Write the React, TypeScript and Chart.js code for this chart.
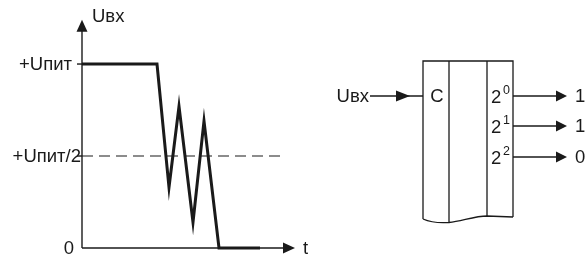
import React, { useEffect, useRef } from "react";
import { Chart, registerables } from "chart.js";

Chart.register(...registerables);

// Input signal (time in arbitrary units, voltage as fraction of Uпит)
const timeValues = [0, 3.75, 4.35, 4.85, 5.55, 6.1, 6.85, 8.9];
const voltageValues = [1, 1, 0.33, 0.77, 0.14, 0.69, 0, 0];
const thresholdLevel = 0.5;
const thresholdEnd = 10.15;
const timeAxisEnd = 10.65;
const voltageAxisEnd = 1.24;

const yTickValues = [0, 0.5, 1];
const yTickLabels = ["0", "+Uпит/2", "+Uпит"];
const axisTitleY = "Uвх";
const axisTitleX = "t";

// Counter diagram
const inputLabel = "Uвх";
const clockLabel = "C";
const bitPowers = ["0", "1", "2"];
const outputValues = ["1", "1", "0"];

const FONT = '"Liberation Sans", Arial, sans-serif';
const INK = "#1a1a1a";
const FS = 18.5;

function arrowHead(ctx: CanvasRenderingContext2D, tipX: number, tipY: number, dir: "up" | "right", len: number, half: number) {
  ctx.beginPath();
  if (dir === "up") {
    ctx.moveTo(tipX, tipY);
    ctx.lineTo(tipX - half, tipY + len);
    ctx.lineTo(tipX + half, tipY + len);
  } else {
    ctx.moveTo(tipX, tipY);
    ctx.lineTo(tipX - len, tipY - half);
    ctx.lineTo(tipX - len, tipY + half);
  }
  ctx.closePath();
  ctx.fill();
}

const diagramPlugin = {
  id: "diagram",
  afterDatasetsDraw(chart: any) {
    const ctx: CanvasRenderingContext2D = chart.ctx;
    const xs = chart.scales.x;
    const ys = chart.scales.y;
    const px = (v: number) => xs.getPixelForValue(v);
    const py = (v: number) => ys.getPixelForValue(v);
    ctx.save();
    ctx.strokeStyle = INK;
    ctx.fillStyle = INK;
    ctx.lineWidth = 1.4;

    const x0 = px(0);
    const y0 = py(0);
    // y axis
    const yTip = py(voltageAxisEnd);
    ctx.beginPath();
    ctx.moveTo(x0, y0);
    ctx.lineTo(x0, yTip + 8);
    ctx.stroke();
    arrowHead(ctx, x0, yTip, "up", 12, 5.5);
    // x axis
    const xTip = px(timeAxisEnd);
    ctx.beginPath();
    ctx.moveTo(x0, y0);
    ctx.lineTo(xTip - 8, y0);
    ctx.stroke();
    arrowHead(ctx, xTip, y0, "right", 12, 5.5);

    // ticks & labels
    ctx.font = `${FS}px ${FONT}`;
    ctx.textBaseline = "middle";
    ctx.textAlign = "right";
    yTickValues.forEach((v, i) => {
      const y = py(v);
      if (v !== 0) {
        ctx.beginPath();
        ctx.moveTo(x0 - 5, y);
        ctx.lineTo(x0, y);
        ctx.stroke();
      }
      const off = v === 0 ? 8 : v === 0.5 ? 1 : 10;
      ctx.fillText(yTickLabels[i], x0 - off, y + 1);
    });
    ctx.textAlign = "left";
    ctx.fillText(axisTitleY, x0 + 10, yTip - 3);
    ctx.fillText(axisTitleX, xTip + 8, y0 + 1);

    // counter box
    const L = 423, R = 513, T = 61;
    const m1 = 449, m2 = 487;
    ctx.lineWidth = 1.3;
    ctx.beginPath();
    ctx.moveTo(L, 219);
    ctx.lineTo(L, T);
    ctx.lineTo(R, T);
    ctx.lineTo(R, 217);
    ctx.moveTo(m1, T);
    ctx.lineTo(m1, 222.5);
    ctx.moveTo(m2, T);
    ctx.lineTo(m2, 216);
    ctx.stroke();
    ctx.beginPath();
    ctx.moveTo(L, 219);
    ctx.bezierCurveTo(432, 223, 442, 223, m1, 222.5);
    ctx.bezierCurveTo(462, 221, 475, 216, m2, 216);
    ctx.lineTo(R, 217);
    ctx.stroke();

    // input
    const rowY = [96, 126, 157];
    ctx.font = `${FS}px ${FONT}`;
    ctx.textAlign = "right";
    ctx.fillText(inputLabel, 369, rowY[0] + 1);
    ctx.beginPath();
    ctx.moveTo(370, rowY[0]);
    ctx.lineTo(L, rowY[0]);
    ctx.stroke();
    arrowHead(ctx, 410, rowY[0], "right", 14, 5.5);
    ctx.textAlign = "center";
    ctx.fillText(clockLabel, 437, rowY[0] + 1);

    // outputs
    bitPowers.forEach((p, i) => {
      const y = rowY[i];
      ctx.textAlign = "left";
      ctx.font = `${FS}px ${FONT}`;
      ctx.fillText("2", 491, y + 2);
      ctx.font = `12.5px ${FONT}`;
      ctx.fillText(p, 503, y - 5);
      ctx.beginPath();
      ctx.moveTo(R, y);
      ctx.lineTo(560, y);
      ctx.stroke();
      arrowHead(ctx, 567, y, "right", 11, 5.5);
      ctx.font = `${FS}px ${FONT}`;
      ctx.fillText(outputValues[i], 575, y + 1);
    });
    ctx.restore();
  },
};

export default function App() {
  const ref = useRef<HTMLCanvasElement | null>(null);
  useEffect(() => {
    if (!ref.current) return;
    const signal = timeValues.map((t, i) => ({ x: t, y: voltageValues[i] }));
    const threshold = [
      { x: 0, y: thresholdLevel },
      { x: thresholdEnd, y: thresholdLevel },
    ];
    const chart = new Chart(ref.current, {
      type: "line",
      data: {
        datasets: [
          {
            data: threshold,
            borderColor: INK,
            borderWidth: 1.1,
            borderDash: [11, 6],
            pointRadius: 0,
            tension: 0,
          },
          {
            data: signal,
            borderColor: INK,
            borderWidth: 3,
            pointRadius: 0,
            tension: 0,
            borderJoinStyle: "miter",
          },
        ],
      },
      options: {
        animation: false,
        responsive: false,
        events: [],
        layout: { padding: 0 },
        plugins: { legend: { display: false }, tooltip: { enabled: false } },
        scales: {
          x: { type: "linear", display: false, min: -4.1, max: 25.3 },
          y: { type: "linear", display: false, min: -0.038, max: 1.348 },
        },
      },
      plugins: [diagramPlugin],
    });
    return () => chart.destroy();
  }, []);
  return (
    <div style={{ position: "absolute", left: 0, top: 0, width: 588, height: 255, background: "#fff" }}>
      <canvas ref={ref} width={588} height={255} style={{ display: "block" }} />
    </div>
  );
}
